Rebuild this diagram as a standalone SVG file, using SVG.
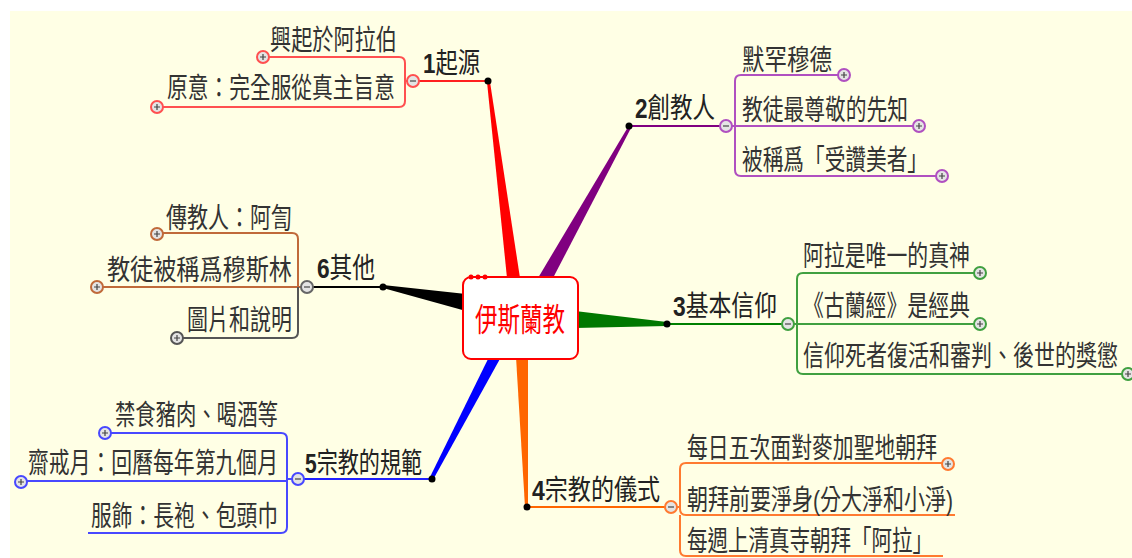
<svg xmlns="http://www.w3.org/2000/svg" xmlns:xlink="http://www.w3.org/1999/xlink" width="1132" height="558" viewBox="0 0 1132 558">
<style>
.t{font-family:"Liberation Sans","Noto Sans CJK TC",sans-serif;font-size:21px;fill:#333;}
.tp{font-family:"Liberation Sans","Noto Sans CJK TC",sans-serif;font-size:21px;fill:#222;}
.d{font-weight:bold;}
.ln{fill:none;stroke-width:2;}
</style>
<defs>
<g id="cp"><circle r="6" fill="#e4e4e4" stroke-width="2"/><path d="M-3 0H3M0-3V3" stroke="#444" stroke-width="1.2"/></g>
<g id="cm"><circle r="6" fill="#e4e4e4" stroke-width="2"/><path d="M-3 0H3" stroke="#444" stroke-width="1.2"/></g>
<circle id="dot" r="3.5" fill="#000"/>
</defs>
<rect width="1132" height="558" fill="#fff"/>
<rect x="10" y="11" width="1122" height="547" fill="#ffffe5"/>

<g id="connectors">
  <polygon points="487,82 490,82 520,278 507,278" fill="#ff0000"/>
  <polygon points="628,127 631,128 553,278 538,278" fill="#800080"/>
  <polygon points="575,311 667,322 667,326 575,328" fill="#007800"/>
  <polygon points="516,357 528,357 528,507 525,507" fill="#ff6600"/>
  <polygon points="489,357 501,357 434,478 430,477" fill="#0000ff"/>
  <polygon points="466,294 466,311 383,288 383,285" fill="#000"/>

  <path class="ln" stroke="#ff2020" d="M419 81H488"/>
  <path class="ln" stroke="#ff5050" d="M407 81H405V63Q405 57 399 57H269M405 81V101Q405 107 399 107H163"/>

  <path class="ln" stroke="#800080" d="M629 126H720"/>
  <path class="ln" stroke="#b050c0" d="M732 126H735V81Q735 75 741 75H838M735 126H913M735 126V170Q735 176 741 176H936"/>

  <path class="ln" stroke="#008000" d="M667 324H782"/>
  <path class="ln" stroke="#40a040" d="M794 324H797V279Q797 273 803 273H974M797 324H974M797 324V368Q797 374 803 374H1122"/>

  <path class="ln" stroke="#ff6600" d="M527 507H665"/>
  <path class="ln" stroke="#ff7a30" d="M677 507H680V469Q680 463 686 463H942M680 507V509Q680 515 686 515H955M680 515V550Q680 556 686 556H943"/>

  <path class="ln" stroke="#2020ff" d="M304 479H432"/>
  <path class="ln" stroke="#4848ff" d="M292 479H287V439Q287 433 281 433H111M287 479V481H27M287 481V527Q287 533 281 533H88"/>

  <path class="ln" stroke="#000" d="M313 287H383"/>
  <path class="ln" stroke="#c06a3a" d="M301 287H298V239Q298 233 292 233H163M298 287H103"/>
  <path class="ln" stroke="#555" d="M298 287V332Q298 338 292 338H183"/>
</g>

<g id="center">
  <rect x="463" y="277" width="115" height="82" rx="8" fill="#fff" stroke="#ff0000" stroke-width="2"/>
  <circle cx="471" cy="277" r="2.5" fill="#ff0000"/>
  <circle cx="478" cy="277" r="2.5" fill="#ff0000"/>
  <circle cx="485" cy="277" r="2.5" fill="#ff0000"/>
  <text transform="translate(475,331) scale(1,1.42)" textLength="90" lengthAdjust="spacingAndGlyphs" style="font-family:'Noto Sans CJK TC',sans-serif;font-size:22.5px;fill:#ff0000">伊斯蘭教</text>
</g>

<g id="topic1">
  <use xlink:href="#dot" x="488" y="81"/>
  <use xlink:href="#cm" x="413" y="81" stroke="#ff5050"/>
  <text class="tp" transform="translate(423,73) scale(1,1.35)" textLength="57" lengthAdjust="spacingAndGlyphs"><tspan class="d">1</tspan>起源</text>
</g>
<g id="t1c1"><use xlink:href="#cp" x="263" y="57" stroke="#ff5050"/><text class="t" transform="translate(270,50) scale(1,1.35)" textLength="127" lengthAdjust="spacingAndGlyphs">興起於阿拉伯</text></g>
<g id="t1c2"><use xlink:href="#cp" x="157" y="107" stroke="#ff5050"/><text class="t" transform="translate(167,98) scale(1,1.35)" textLength="228" lengthAdjust="spacingAndGlyphs">原意：完全服從真主旨意</text></g>

<g id="topic2">
  <use xlink:href="#dot" x="629" y="126"/>
  <use xlink:href="#cm" x="726" y="126" stroke="#b050c0"/>
  <text class="tp" transform="translate(635,118) scale(1,1.35)" textLength="80" lengthAdjust="spacingAndGlyphs"><tspan class="d">2</tspan>創教人</text>
</g>
<g id="t2c1"><use xlink:href="#cp" x="844" y="75" stroke="#b050c0"/><text class="t" transform="translate(742,70) scale(1,1.35)" textLength="90" lengthAdjust="spacingAndGlyphs">默罕穆德</text></g>
<g id="t2c2"><use xlink:href="#cp" x="919" y="126" stroke="#b050c0"/><text class="t" transform="translate(742,120) scale(1,1.35)" textLength="166" lengthAdjust="spacingAndGlyphs">教徒最尊敬的先知</text></g>
<g id="t2c3"><use xlink:href="#cp" x="942" y="176" stroke="#b050c0"/><text class="t" transform="translate(742,170) scale(1,1.35)" textLength="186" lengthAdjust="spacingAndGlyphs">被稱爲「受讚美者」</text></g>

<g id="topic3">
  <use xlink:href="#dot" x="667" y="324"/>
  <use xlink:href="#cm" x="788" y="324" stroke="#40a040"/>
  <text class="tp" transform="translate(673,316) scale(1,1.35)" textLength="104" lengthAdjust="spacingAndGlyphs"><tspan class="d">3</tspan>基本信仰</text>
</g>
<g id="t3c1"><use xlink:href="#cp" x="980" y="273" stroke="#40a040"/><text class="t" transform="translate(803,266) scale(1,1.35)" textLength="167" lengthAdjust="spacingAndGlyphs">阿拉是唯一的真神</text></g>
<g id="t3c2"><use xlink:href="#cp" x="980" y="324" stroke="#40a040"/><text class="t" transform="translate(803,316) scale(1,1.35)" textLength="167" lengthAdjust="spacingAndGlyphs">《古蘭經》是經典</text></g>
<g id="t3c3"><use xlink:href="#cp" x="1128" y="374" stroke="#40a040"/><text class="t" transform="translate(803,366) scale(1,1.35)" textLength="315" lengthAdjust="spacingAndGlyphs">信仰死者復活和審判、後世的獎懲</text></g>

<g id="topic4">
  <use xlink:href="#dot" x="527" y="507"/>
  <use xlink:href="#cm" x="671" y="507" stroke="#ff7a30"/>
  <text class="tp" transform="translate(532,500) scale(1,1.35)" textLength="128" lengthAdjust="spacingAndGlyphs"><tspan class="d">4</tspan>宗教的儀式</text>
</g>
<g id="t4c1"><use xlink:href="#cp" x="948" y="464" stroke="#ff7a30"/><text class="t" transform="translate(687,458) scale(1,1.35)" textLength="250" lengthAdjust="spacingAndGlyphs">每日五次面對麥加聖地朝拜</text></g>
<g id="t4c2"><text class="t" transform="translate(687,510) scale(1,1.35)" textLength="266" lengthAdjust="spacingAndGlyphs">朝拜前要淨身(分大淨和小淨)</text></g>
<g id="t4c3"><text class="t" transform="translate(687,551) scale(1,1.35)" textLength="246" lengthAdjust="spacingAndGlyphs">每週上清真寺朝拜「阿拉」</text></g>

<g id="topic5">
  <use xlink:href="#dot" x="432" y="479"/>
  <use xlink:href="#cm" x="298" y="479" stroke="#4848ff"/>
  <text class="tp" transform="translate(305,473) scale(1,1.35)" textLength="117" lengthAdjust="spacingAndGlyphs"><tspan class="d">5</tspan>宗教的規範</text>
</g>
<g id="t5c1"><use xlink:href="#cp" x="105" y="433" stroke="#4848ff"/><text class="t" transform="translate(115,425) scale(1,1.35)" textLength="163" lengthAdjust="spacingAndGlyphs">禁食豬肉、喝酒等</text></g>
<g id="t5c2"><use xlink:href="#cp" x="21" y="482" stroke="#4848ff"/><text class="t" transform="translate(28,473) scale(1,1.35)" textLength="250" lengthAdjust="spacingAndGlyphs">齋戒月：回曆每年第九個月</text></g>
<g id="t5c3"><text class="t" transform="translate(91,526) scale(1,1.35)" textLength="187" lengthAdjust="spacingAndGlyphs">服飾：長袍、包頭巾</text></g>

<g id="topic6">
  <use xlink:href="#dot" x="383" y="287"/>
  <use xlink:href="#cm" x="307" y="287" stroke="#666"/>
  <text class="tp" transform="translate(317,278) scale(1,1.35)" textLength="58" lengthAdjust="spacingAndGlyphs"><tspan class="d">6</tspan>其他</text>
</g>
<g id="t6c1"><use xlink:href="#cp" x="157" y="234" stroke="#c06a3a"/><text class="t" transform="translate(166,228) scale(1,1.35)" textLength="126" lengthAdjust="spacingAndGlyphs">傳教人：阿訇</text></g>
<g id="t6c2"><use xlink:href="#cp" x="97" y="287" stroke="#c06a3a"/><text class="t" transform="translate(107,280) scale(1,1.35)" textLength="185" lengthAdjust="spacingAndGlyphs">教徒被稱爲穆斯林</text></g>
<g id="t6c3"><use xlink:href="#cp" x="177" y="338" stroke="#555"/><text class="t" transform="translate(187,330) scale(1,1.35)" textLength="105" lengthAdjust="spacingAndGlyphs">圖片和說明</text></g>
</svg>
